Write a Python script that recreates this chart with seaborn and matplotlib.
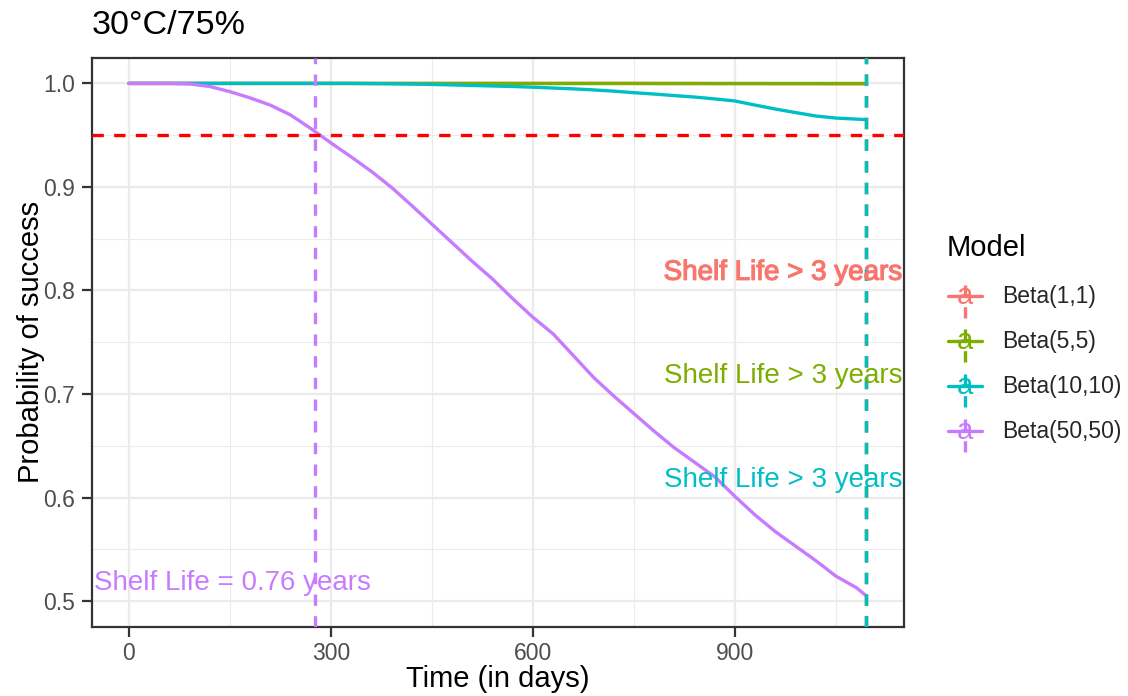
import numpy as np
import pandas as pd
import matplotlib
matplotlib.use("Agg")
import matplotlib.pyplot as plt
import seaborn as sns
from matplotlib.lines import Line2D
from matplotlib.text import Text
from matplotlib.legend_handler import HandlerBase
import matplotlib.patheffects as pe

# ---- data -------------------------------------------------------------
models = ["Beta(1,1)", "Beta(5,5)", "Beta(10,10)", "Beta(50,50)"]
colors = ["#F8766D", "#7CAE00", "#00BFC4", "#C77CFF"]

days = [0, 30, 60, 90, 120, 150, 180, 210, 240, 270, 300, 330, 360, 390,
        420, 450, 480, 510, 540, 570, 600, 630, 660, 690, 720, 750, 780,
        810, 840, 870, 900, 930, 960, 990, 1020, 1050, 1080, 1095]

p_beta_1_1 = [1.0, 1.0, 1.0, 1.0, 1.0, 1.0, 1.0, 1.0, 1.0, 1.0, 1.0, 1.0,
              1.0, 1.0, 1.0, 1.0, 1.0, 1.0, 1.0, 1.0, 1.0, 1.0, 1.0, 1.0,
              1.0, 1.0, 0.9999, 0.9999, 0.9999, 0.9998, 0.9998, 0.9998,
              0.9997, 0.9997, 0.9997, 0.9996, 0.9996, 0.9996]
p_beta_5_5 = [1.0] * 38
p_beta_10_10 = [1.0, 1.0, 1.0, 1.0, 1.0, 1.0, 1.0, 1.0, 1.0, 1.0, 1.0, 1.0,
                0.9998, 0.9996, 0.9993, 0.999, 0.9985, 0.998, 0.9975, 0.997,
                0.9963, 0.9955, 0.9947, 0.9937, 0.9925, 0.991, 0.9897,
                0.9882, 0.9868, 0.985, 0.983, 0.979, 0.9752, 0.9718, 0.9685,
                0.9665, 0.9655, 0.965]
p_beta_50_50 = [1.0, 1.0, 1.0, 0.9995, 0.997, 0.992, 0.986, 0.979, 0.9695,
                0.9565, 0.9425, 0.929, 0.915, 0.8995, 0.882, 0.864, 0.846,
                0.828, 0.811, 0.792, 0.774, 0.758, 0.737, 0.716, 0.698,
                0.681, 0.664, 0.648, 0.634, 0.620, 0.601, 0.583, 0.567,
                0.553, 0.539, 0.524, 0.513, 0.505]

shelf_life_days = [1095, 1095, 1095, 277]
shelf_labels = ["Shelf Life > 3 years", "Shelf Life > 3 years",
                "Shelf Life > 3 years", "Shelf Life = 0.76 years"]
label_y = [0.82, 0.72, 0.62, 0.52]
threshold = 0.95

x_breaks = [0, 300, 600, 900]
y_breaks = [0.5, 0.6, 0.7, 0.8, 0.9, 1.0]

series = [p_beta_1_1, p_beta_5_5, p_beta_10_10, p_beta_50_50]
df = pd.concat(
    [pd.DataFrame({"Time": days, "Probability": vals, "Model": m})
     for m, vals in zip(models, series)],
    ignore_index=True,
)

# ---- styling ----------------------------------------------------------
sns.set_theme(style="white")
plt.rcParams["font.family"] = ["Liberation Sans", "DejaVu Sans"]

LW = 2.4
DASH = (0, (3.4, 3.1))

fig = plt.figure(figsize=(11.28, 6.96), dpi=100)
ax = fig.add_axes([92 / 1128, 1 - 627 / 696, (904 - 92) / 1128, (627 - 57.5) / 696])

sns.lineplot(data=df, x="Time", y="Probability", hue="Model",
             hue_order=models, palette=colors, linewidth=LW,
             estimator=None, sort=True, ax=ax, legend=False, zorder=3)

ax.axhline(threshold, color="#FF0000", lw=LW, ls=DASH, zorder=4)
for d, c in zip(shelf_life_days, colors):
    ax.axvline(d, color=c, lw=LW, ls=DASH, zorder=4)

for i, (lab, yy, c) in enumerate(zip(shelf_labels, label_y, colors)):
    if i < 3:
        t = ax.text(1148, yy, lab, color=c, fontsize=20, ha="right",
                    va="center_baseline", zorder=5, clip_on=True)
    else:
        t = ax.text(-52, yy, lab, color=c, fontsize=20, ha="left",
                    va="center_baseline", zorder=5, clip_on=True)
    if i == 0:
        t.set_path_effects([pe.withStroke(linewidth=0.9, foreground=c)])

ax.set_xlim(-54.8, 1150.8)
ax.set_ylim(0.475, 1.025)
ax.set_xticks(x_breaks)
ax.set_yticks(y_breaks)
ax.set_xticklabels([str(v) for v in x_breaks])
ax.set_yticklabels([f"{v:.1f}" for v in y_breaks])
ax.set_xticks([150, 450, 750, 1050], minor=True)
ax.set_yticks([0.55, 0.65, 0.75, 0.85, 0.95], minor=True)

ax.grid(True, which="major", color="#EBEBEB", lw=1.6, zorder=0)
ax.grid(True, which="minor", color="#EBEBEB", lw=0.8, zorder=0)
ax.set_axisbelow(True)
for s in ax.spines.values():
    s.set_color("#333333")
    s.set_linewidth(1.6)

ax.tick_params(axis="both", which="major", length=7, width=1.6,
               color="#333333", labelcolor="#4D4D4D", labelsize=16.5,
               bottom=True, left=True)
ax.tick_params(axis="x", which="major", pad=4)
ax.tick_params(axis="y", which="major", pad=5)
ax.tick_params(which="minor", length=0)

ax.set_xlabel("Time (in days)", fontsize=21, color="black", labelpad=0)
ax.set_ylabel("Probability of success", fontsize=21, color="black", labelpad=-1)
ax.set_title("30°C/75%", loc="left", fontsize=24.5, color="black", pad=17)


# legend keys: line + dashed vertical rule + text glyph
class KeyHandler(HandlerBase):
    def __init__(self, color):
        super().__init__()
        self.color = color

    def create_artists(self, legend, orig_handle, xdescent, ydescent,
                       width, height, fontsize, trans):
        x0, x1 = -xdescent, width - xdescent
        y0, y1 = -ydescent, height - ydescent
        cx, cy = (x0 + x1) / 2, (y0 + y1) / 2
        h = Line2D([x0, x1], [cy, cy], color=self.color, lw=LW, transform=trans)
        v = Line2D([cx, cx], [y0 + 1, y1 - 1], color=self.color, lw=LW,
                   ls=DASH, transform=trans)
        t = Text(cx, cy, "a", color=self.color, fontsize=21, ha="center",
                 va="center", transform=trans)
        return [h, v, t]


fig.text(947 / 1128, 1 - 248 / 696, "Model", fontsize=21, color="black",
         ha="left", va="center")

handles = [Line2D([], [], color=c) for c in colors]
leg = fig.legend(handles, models, loc="upper left",
                 bbox_to_anchor=(948 / 1128, 1 - 274 / 696),
                 frameon=False, fontsize=16.5, handlelength=1.5,
                 handleheight=2.64, handletextpad=0.85, labelspacing=0.0,
                 borderpad=0, borderaxespad=0,
                 handler_map={h: KeyHandler(c) for h, c in zip(handles, colors)})

fig.savefig("out.png", dpi=100)
